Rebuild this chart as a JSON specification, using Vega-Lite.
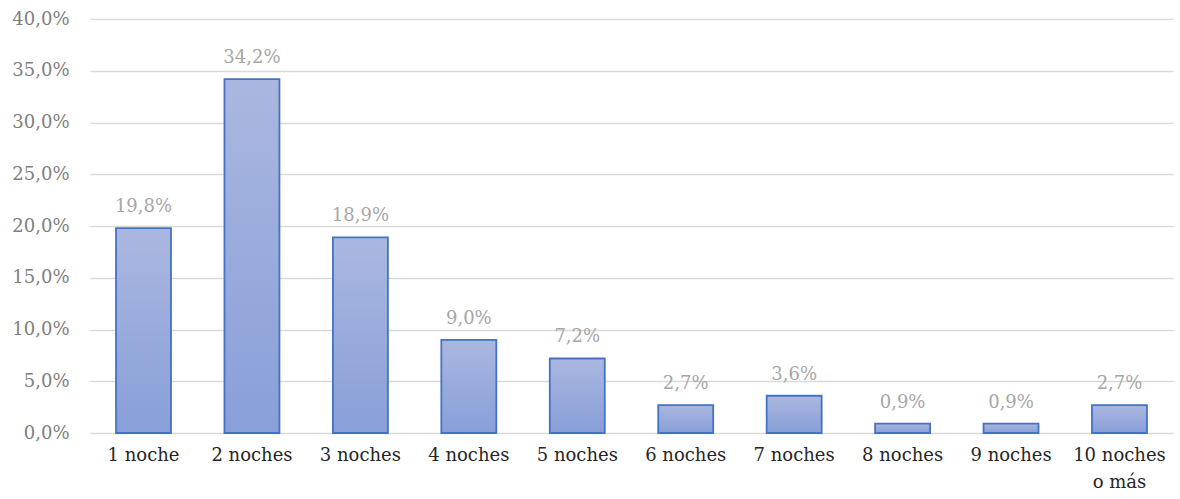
{
  "$schema": "https://vega.github.io/schema/vega-lite/v6.json",
  "autosize": "none",
  "width": 1083,
  "height": 414,
  "padding": {"left": 90, "top": 19, "right": 7, "bottom": 66},
  "background": "white",
  "config": {
    "view": {"stroke": null},
    "font": "DejaVu Serif",
    "locale": {"number": {"decimal": ",", "thousands": ".", "grouping": [3], "currency": ["", " €"], "percent": "%"}}
  },
  "data": {"values": [
    {"cat": "1 noche", "v": 0.198},
    {"cat": "2 noches", "v": 0.342},
    {"cat": "3 noches", "v": 0.189},
    {"cat": "4 noches", "v": 0.090},
    {"cat": "5 noches", "v": 0.072},
    {"cat": "6 noches", "v": 0.027},
    {"cat": "7 noches", "v": 0.036},
    {"cat": "8 noches", "v": 0.009},
    {"cat": "9 noches", "v": 0.009},
    {"cat": "10 noches o más", "v": 0.027}
  ]},
  "encoding": {
    "x": {"field": "cat", "type": "nominal", "sort": null,
      "scale": {"paddingInner": 0.493, "paddingOuter": 0.24},
      "axis": {"title": null, "domain": false, "ticks": false, "labelAngle": 0,
        "labelFont": "DejaVu Serif", "labelFontSize": 18, "labelColor": "#262626",
        "labelPadding": 13, "labelLineHeight": 27,
        "labelExpr": "datum.label == '10 noches o más' ? ['10 noches', 'o más'] : datum.label"}},
    "y": {"field": "v", "type": "quantitative",
      "scale": {"domain": [0, 0.4]},
      "axis": {"title": null, "domain": false, "ticks": false, "values": [0, 0.05, 0.1, 0.15, 0.2, 0.25, 0.3, 0.35, 0.4],
        "format": ".1%",
        "labelFont": "DejaVu Serif", "labelFontSize": 18, "labelColor": "#7f7f7f", "labelPadding": 21,
        "gridColor": "#d9d9d9", "gridWidth": 1.5}}
  },
  "layer": [
    {"mark": {"type": "bar", "stroke": "#4472c4", "strokeWidth": 1.8,
      "fill": {"gradient": "linear", "x1": 0, "y1": 0, "x2": 0, "y2": 1,
        "stops": [{"offset": 0, "color": "#aab7e0"}, {"offset": 1, "color": "#889fd8"}]}}},
    {"mark": {"type": "text", "baseline": "alphabetic", "dy": -16, "font": "DejaVu Serif", "fontSize": 18, "color": "#a6a6a6"},
     "encoding": {"text": {"field": "v", "type": "quantitative", "format": ".1%"}}}
  ]
}
